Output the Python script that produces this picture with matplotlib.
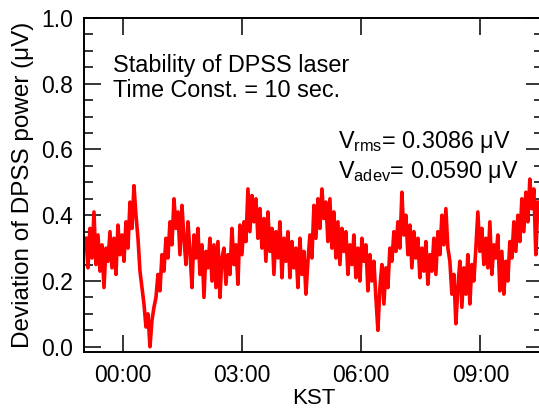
import numpy as np
import matplotlib
matplotlib.use("Agg")
import matplotlib.pyplot as plt
from matplotlib.ticker import MultipleLocator

plt.rcParams['font.family'] = ['Liberation Sans', 'DejaVu Sans']
plt.rcParams['mathtext.fontset'] = 'custom'
plt.rcParams['mathtext.rm'] = 'Liberation Sans'
plt.rcParams['mathtext.it'] = 'Liberation Sans:italic'

# time span of the record (hours after 00:00 KST)
t_start = -0.94
t_end = 10.45

# deviation of DPSS power (uV)
power = [
    0.33, 0.24, 0.36, 0.27, 0.41, 0.25, 0.34, 0.23, 0.31, 0.18,
    0.30, 0.26, 0.35, 0.24, 0.33, 0.22, 0.37, 0.28, 0.34, 0.26,
    0.38, 0.30, 0.44, 0.36, 0.49, 0.40, 0.33, 0.23, 0.18, 0.13,
    0.06, 0.10, 0.00, 0.08, 0.12, 0.15, 0.22, 0.17, 0.28, 0.23,
    0.33, 0.27, 0.38, 0.31, 0.45, 0.36, 0.41, 0.28, 0.43, 0.33,
    0.25, 0.38, 0.29, 0.18, 0.34, 0.27, 0.36, 0.22, 0.31, 0.15,
    0.29, 0.24, 0.33, 0.20, 0.31, 0.18, 0.32, 0.15, 0.27, 0.30,
    0.19, 0.28, 0.22, 0.36, 0.25, 0.31, 0.19, 0.37, 0.28, 0.38,
    0.32, 0.48, 0.35, 0.46, 0.38, 0.45, 0.33, 0.42, 0.30, 0.39,
    0.26, 0.41, 0.29, 0.36, 0.22, 0.35, 0.27, 0.38, 0.21, 0.33,
    0.26, 0.35, 0.21, 0.32, 0.24, 0.30, 0.18, 0.33, 0.22, 0.29,
    0.16, 0.26, 0.34, 0.27, 0.43, 0.33, 0.45, 0.36, 0.48, 0.39,
    0.44, 0.32, 0.45, 0.30, 0.41, 0.27, 0.38, 0.25, 0.36, 0.29,
    0.35, 0.22, 0.31, 0.25, 0.34, 0.21, 0.30, 0.20, 0.33, 0.26,
    0.31, 0.17, 0.28, 0.20, 0.26, 0.15, 0.05, 0.18, 0.25, 0.13,
    0.24, 0.18, 0.30, 0.26, 0.35, 0.29, 0.38, 0.30, 0.47, 0.34,
    0.40, 0.28, 0.37, 0.24, 0.35, 0.27, 0.33, 0.21, 0.30, 0.23,
    0.32, 0.19, 0.28, 0.23, 0.33, 0.22, 0.35, 0.28, 0.40, 0.31,
    0.42, 0.30, 0.26, 0.16, 0.22, 0.07, 0.18, 0.26, 0.12, 0.24,
    0.16, 0.28, 0.13, 0.25, 0.20, 0.30, 0.41, 0.29, 0.36, 0.25,
    0.33, 0.24, 0.38, 0.22, 0.31, 0.27, 0.34, 0.17, 0.29, 0.16,
    0.26, 0.20, 0.32, 0.27, 0.38, 0.29, 0.40, 0.32, 0.45, 0.35,
    0.47, 0.38, 0.51, 0.42, 0.48, 0.28, 0.44,
]
t = np.linspace(t_start, t_end, len(power))  # evenly sampled record

xticks = [0, 3, 6, 9]
xticklabels = ['00:00', '03:00', '06:00', '09:00']
yticks = [0.0, 0.2, 0.4, 0.6, 0.8, 1.0]

fig = plt.figure(figsize=(5.39, 4.12), dpi=100)
# axes box in pixels: left 84, right 543 (runs past the edge), top 18, bottom 352
ax = fig.add_axes([84 / 539, 1 - 352 / 412, 459 / 539, 334 / 412])

ax.plot(t, power, color='#ff0000', lw=2.6)

ax.set_xlim(-0.99, 10.58)
ax.set_ylim(-0.016, 1.0)
ax.set_xticks(xticks)
ax.set_xticklabels(xticklabels)
ax.set_yticks(yticks)
ax.set_yticklabels(['%.1f' % v for v in yticks])
ax.yaxis.set_minor_locator(MultipleLocator(0.05))

ax.tick_params(which='both', direction='in', top=True, right=True,
               width=1.1, labelsize=16.5, color='black')
ax.tick_params(which='major', length=12.5)
ax.tick_params(which='minor', length=6.5)
ax.tick_params(axis='y', pad=8)
ax.tick_params(axis='x', pad=9)
for s in ax.spines.values():
    s.set_linewidth(1.4)

ax.set_xlabel('KST', fontsize=16, labelpad=0)
ax.set_ylabel('Deviation of DPSS power (μV)', fontsize=17.5, labelpad=5)

ax.text(0.063, 0.838, 'Stability of DPSS laser', transform=ax.transAxes,
        fontsize=16.8, va='baseline', ha='left')
ax.text(0.063, 0.763, 'Time Const. = 10 sec.', transform=ax.transAxes,
        fontsize=16.8, va='baseline', ha='left')
ax.text(0.553, 0.611, r'V$_{\mathrm{rms}}$= 0.3086 μV', transform=ax.transAxes,
        fontsize=16.8, va='baseline', ha='left')
ax.text(0.553, 0.521, r'V$_{\mathrm{adev}}$= 0.0590 μV', transform=ax.transAxes,
        fontsize=16.8, va='baseline', ha='left')

fig.savefig('out.png', dpi=100)
